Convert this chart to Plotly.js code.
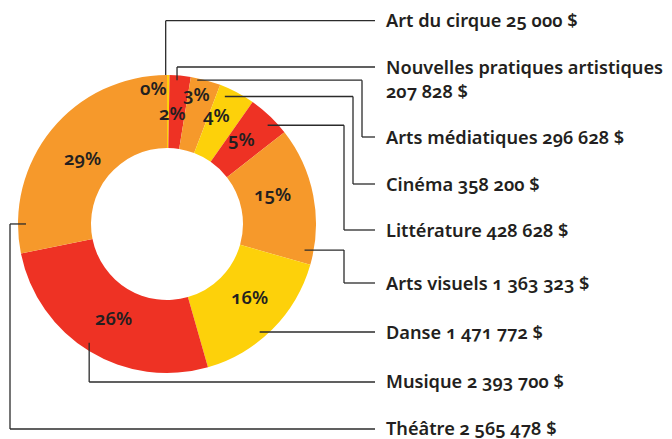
<!DOCTYPE html>
<html>
<head>
<meta charset="utf-8">
<script src="https://cdn.plot.ly/plotly-3.0.1.min.js"></script>
<style>
  html, body { margin: 0; padding: 0; background: #fff; }
  #chart { width: 672px; height: 439px; }
  svg text {
    font-variant-numeric: oldstyle-nums !important;
    font-feature-settings: "onum" 1 !important;
  }
</style>
</head>
<body>
<div id="chart"></div>
<script>
// ---- data ----
const categories = ['Art du cirque', 'Nouvelles pratiques artistiques', 'Arts médiatiques', 'Cinéma',
  'Littérature', 'Arts visuels', 'Danse', 'Musique', 'Théâtre'];
const amounts = [25000, 207828, 296628, 358200, 428628, 1363323, 1471772, 2393700, 2565478];
const amountLabels = ['25 000 $', '207 828 $', '296 628 $', '358 200 $', '428 628 $',
  '1 363 323 $', '1 471 772 $', '2 393 700 $', '2 565 478 $'];
const pctLabels = ['0%', '2%', '3%', '4%', '5%', '15%', '16%', '26%', '29%'];
const sliceColors = ['#FDD10A', '#EE3224', '#F6992B', '#FDD10A', '#EE3224', '#F6992B', '#FDD10A', '#EE3224', '#F6992B'];

// ---- layout / style config (pixels) ----
const W = 672, H = 439;
const pieBox = { left: 18, right: 316, top: 75, bottom: 373 };
const cx = (pieBox.left + pieBox.right) / 2, cy = (pieBox.top + pieBox.bottom) / 2;
const holeFrac = 0.51;
const labelX = 385, lineEndX = 375;
const labelY = [20, 78.5, 137, 184, 230, 283, 332, 381, 427.5];
const leaderY = [20.7, 67, 137, 184, 230, 283, 332, 382, 429];
// leader start: angle offset (deg) from slice middle and radius (px); route kind; elbow x
const leaderStyle = [
  { dAng: -1.0, r: 149, kind: 'v' },
  { dAng: -1.1, r: 144, kind: 'v' },
  { dAng: -3.2, r: 147, kind: 'h', ex: 362 },
  { dAng: -3.6, r: 140, kind: 'h', ex: 353 },
  { dAng: 2.0, r: 141, kind: 'h', ex: 344 },
  { dAng: 21.8, r: 140, kind: 'h', ex: 344 },
  { dAng: 4.3, r: 142, kind: 'd' },
  { dAng: 1.9, r: 142, kind: 'v' },
  { dAng: -39.3, r: 141, kind: 'l', ex: 10 }
];
// percent label placement: angle offset from slice middle, radius (px)
const pctStyle = [
  { dAng: -6.0, r: 137 }, { dAng: -2.5, r: 112 }, { dAng: -2.2, r: 134 }, { dAng: -3.4, r: 120 },
  { dAng: -2.5, r: 114 }, { dAng: -5.2, r: 110 }, { dAng: -3.7, r: 110 }, { dAng: -1.4, r: 108 },
  { dAng: -1.1, r: 108 }
];

const px = x => x / W;
const py = y => 1 - y / H;

// slice mid-angles (deg clockwise from top) derived from data
const total = amounts.reduce((a, b) => a + b, 0);
let cum = 0;
const midAng = amounts.map(v => { const m = (cum + v / 2) / total * 360; cum += v; return m; });
const polar = (ang, r) => {
  const a = ang * Math.PI / 180;
  return [cx + r * Math.sin(a), cy - r * Math.cos(a)];
};

const lineStyle = { color: '#2b2b2b', width: 1.3 };
const shapes = [];
const seg = (x0, y0, x1, y1) => shapes.push({
  type: 'line', xref: 'paper', yref: 'paper',
  x0: px(x0), y0: py(y0), x1: px(x1), y1: py(y1), line: lineStyle
});

leaderStyle.forEach((s, i) => {
  const [sx, sy] = polar(midAng[i] + s.dAng, s.r);
  const ty = leaderY[i];
  if (s.kind === 'v') {
    seg(sx, sy, sx, ty); seg(sx, ty, lineEndX, ty);
  } else if (s.kind === 'h' || s.kind === 'l') {
    seg(sx, sy, s.ex, sy); seg(s.ex, sy, s.ex, ty); seg(s.ex, ty, lineEndX, ty);
  } else if (s.kind === 'd') {
    seg(sx, ty, lineEndX, ty);
  }
});

const textColor = '#231f20';
const fontFam = '"Noto Sans", "Open Sans", sans-serif';
const annotations = [];
categories.forEach((c, i) => {
  const txt = i === 1 ? c + '<br>' + amountLabels[i] : c + ' ' + amountLabels[i];
  annotations.push({
    xref: 'paper', yref: 'paper', x: px(labelX), y: py(labelY[i]),
    xanchor: 'left', yanchor: 'middle', align: 'left', showarrow: false, borderpad: 0,
    text: txt, font: { family: fontFam, size: 18.2, color: textColor, weight: 600 }
  });
  const [tx, ty] = polar(midAng[i] + pctStyle[i].dAng, pctStyle[i].r);
  annotations.push({
    xref: 'paper', yref: 'paper', x: px(tx), y: py(ty),
    xanchor: 'center', yanchor: 'middle', showarrow: false, borderpad: 0,
    text: pctLabels[i], font: { family: fontFam, size: 18.5, color: textColor, weight: 600 }
  });
});

const trace = {
  type: 'pie',
  labels: categories,
  values: amounts,
  sort: false,
  direction: 'clockwise',
  rotation: 0,
  hole: holeFrac,
  marker: { colors: sliceColors, line: { width: 0 } },
  textinfo: 'none',
  hoverinfo: 'label+value',
  showlegend: false,
  domain: { x: [px(pieBox.left), px(pieBox.right)], y: [py(pieBox.bottom), py(pieBox.top)] }
};

Plotly.newPlot('chart', [trace], {
  width: W, height: H,
  margin: { l: 0, r: 0, t: 0, b: 0 },
  paper_bgcolor: '#fff',
  showlegend: false,
  shapes: shapes,
  annotations: annotations
}, { displayModeBar: false, staticPlot: true });
</script>
</body>
</html>
